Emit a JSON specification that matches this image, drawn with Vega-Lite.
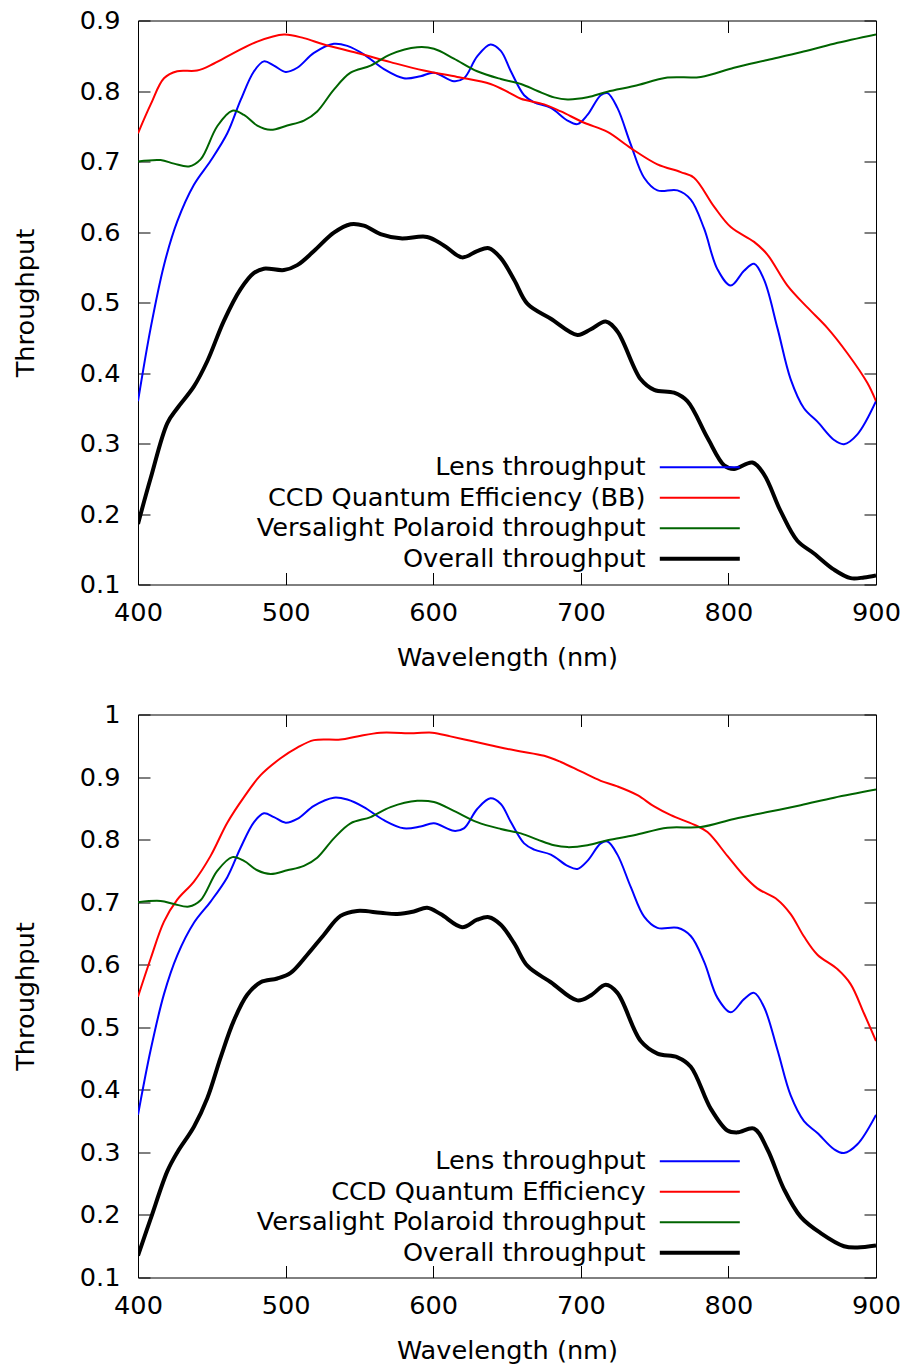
{
  "$schema": "https://vega.github.io/schema/vega-lite/v6.json",
  "background": "white",
  "padding": {"left": 13, "top": 7.5, "right": 5, "bottom": 5},
  "spacing": 29,
  "config": {
    "font": "DejaVu Sans",
    "view": {"stroke": "black", "strokeWidth": 1},
    "axis": {
      "labelFont": "DejaVu Sans", "titleFont": "DejaVu Sans",
      "labelFontSize": 25.6, "titleFontSize": 25.6, "titleFontWeight": "normal",
      "labelColor": "black", "titleColor": "black", "tickColor": "black",
      "tickSize": -12, "tickWidth": 1, "domain": false, "grid": false,
      "labelFlush": false, "labelOverlap": false
    },
    "axisX": {"labelPadding": 28, "titlePadding": 19.5, "labelDx": 4},
    "axisY": {"labelPadding": 30, "titlePadding": 40.5},
    "legend": {
      "title": null, "orient": "none", "legendX": 549, "legendY": 434,
      "symbolType": "M-5,0H5", "symbolSize": 256, "labelFontSize": 25.6,
      "labelFont": "DejaVu Sans", "labelColor": "black", "labelAlign": "right",
      "labelOffset": -67, "labelLimit": 700, "rowPadding": 3.5, "padding": 0
    }
  },
  "resolve": {"scale": {"color": "independent", "strokeWidth": "independent"}, "legend": {"color": "independent", "strokeWidth": "independent"}},
  "datasets": {
    "top": [
      {"series": "Lens throughput", "wl": 400, "value": 0.360},
      {"series": "Lens throughput", "wl": 408.6, "value": 0.464},
      {"series": "Lens throughput", "wl": 417.6, "value": 0.553},
      {"series": "Lens throughput", "wl": 426.6, "value": 0.615},
      {"series": "Lens throughput", "wl": 437.9, "value": 0.667},
      {"series": "Lens throughput", "wl": 449.2, "value": 0.701},
      {"series": "Lens throughput", "wl": 460.5, "value": 0.740},
      {"series": "Lens throughput", "wl": 469.5, "value": 0.787},
      {"series": "Lens throughput", "wl": 478.6, "value": 0.828},
      {"series": "Lens throughput", "wl": 485.3, "value": 0.842},
      {"series": "Lens throughput", "wl": 492.1, "value": 0.836},
      {"series": "Lens throughput", "wl": 500, "value": 0.827},
      {"series": "Lens throughput", "wl": 507.9, "value": 0.833},
      {"series": "Lens throughput", "wl": 519.2, "value": 0.854},
      {"series": "Lens throughput", "wl": 532.7, "value": 0.867},
      {"series": "Lens throughput", "wl": 541.8, "value": 0.864},
      {"series": "Lens throughput", "wl": 553, "value": 0.852},
      {"series": "Lens throughput", "wl": 566.6, "value": 0.831},
      {"series": "Lens throughput", "wl": 580.1, "value": 0.818},
      {"series": "Lens throughput", "wl": 591.4, "value": 0.821},
      {"series": "Lens throughput", "wl": 600.5, "value": 0.826},
      {"series": "Lens throughput", "wl": 614, "value": 0.814},
      {"series": "Lens throughput", "wl": 620.8, "value": 0.818},
      {"series": "Lens throughput", "wl": 629.8, "value": 0.849},
      {"series": "Lens throughput", "wl": 638.8, "value": 0.866},
      {"series": "Lens throughput", "wl": 645.8, "value": 0.857},
      {"series": "Lens throughput", "wl": 652.6, "value": 0.828},
      {"series": "Lens throughput", "wl": 661.6, "value": 0.794},
      {"series": "Lens throughput", "wl": 668.4, "value": 0.784},
      {"series": "Lens throughput", "wl": 679.7, "value": 0.776},
      {"series": "Lens throughput", "wl": 691, "value": 0.758},
      {"series": "Lens throughput", "wl": 697.7, "value": 0.753},
      {"series": "Lens throughput", "wl": 704.5, "value": 0.766},
      {"series": "Lens throughput", "wl": 713.5, "value": 0.794},
      {"series": "Lens throughput", "wl": 718.1, "value": 0.797},
      {"series": "Lens throughput", "wl": 724.8, "value": 0.776},
      {"series": "Lens throughput", "wl": 733.9, "value": 0.724},
      {"series": "Lens throughput", "wl": 742.9, "value": 0.677},
      {"series": "Lens throughput", "wl": 751.9, "value": 0.659},
      {"series": "Lens throughput", "wl": 765.5, "value": 0.659},
      {"series": "Lens throughput", "wl": 774.5, "value": 0.646},
      {"series": "Lens throughput", "wl": 783.5, "value": 0.605},
      {"series": "Lens throughput", "wl": 792.6, "value": 0.547},
      {"series": "Lens throughput", "wl": 801.6, "value": 0.524},
      {"series": "Lens throughput", "wl": 810.6, "value": 0.545},
      {"series": "Lens throughput", "wl": 817.4, "value": 0.555},
      {"series": "Lens throughput", "wl": 824.2, "value": 0.532},
      {"series": "Lens throughput", "wl": 833.2, "value": 0.464},
      {"series": "Lens throughput", "wl": 842.2, "value": 0.391},
      {"series": "Lens throughput", "wl": 851.2, "value": 0.350},
      {"series": "Lens throughput", "wl": 860.3, "value": 0.331},
      {"series": "Lens throughput", "wl": 871.6, "value": 0.305},
      {"series": "Lens throughput", "wl": 878.3, "value": 0.299},
      {"series": "Lens throughput", "wl": 887.4, "value": 0.313},
      {"series": "Lens throughput", "wl": 900, "value": 0.360},

      {"series": "CCD Quantum Efficiency (BB)", "wl": 400, "value": 0.740},
      {"series": "CCD Quantum Efficiency (BB)", "wl": 408.6, "value": 0.781},
      {"series": "CCD Quantum Efficiency (BB)", "wl": 417.6, "value": 0.818},
      {"series": "CCD Quantum Efficiency (BB)", "wl": 426.6, "value": 0.828},
      {"series": "CCD Quantum Efficiency (BB)", "wl": 440, "value": 0.829},
      {"series": "CCD Quantum Efficiency (BB)", "wl": 451.5, "value": 0.839},
      {"series": "CCD Quantum Efficiency (BB)", "wl": 465, "value": 0.854},
      {"series": "CCD Quantum Efficiency (BB)", "wl": 480.8, "value": 0.870},
      {"series": "CCD Quantum Efficiency (BB)", "wl": 498.9, "value": 0.880},
      {"series": "CCD Quantum Efficiency (BB)", "wl": 512.4, "value": 0.875},
      {"series": "CCD Quantum Efficiency (BB)", "wl": 526, "value": 0.866},
      {"series": "CCD Quantum Efficiency (BB)", "wl": 548.5, "value": 0.854},
      {"series": "CCD Quantum Efficiency (BB)", "wl": 571.1, "value": 0.841},
      {"series": "CCD Quantum Efficiency (BB)", "wl": 593.7, "value": 0.829},
      {"series": "CCD Quantum Efficiency (BB)", "wl": 616.3, "value": 0.820},
      {"series": "CCD Quantum Efficiency (BB)", "wl": 638.8, "value": 0.810},
      {"series": "CCD Quantum Efficiency (BB)", "wl": 652, "value": 0.797},
      {"series": "CCD Quantum Efficiency (BB)", "wl": 659.4, "value": 0.789},
      {"series": "CCD Quantum Efficiency (BB)", "wl": 675.2, "value": 0.781},
      {"series": "CCD Quantum Efficiency (BB)", "wl": 686.5, "value": 0.771},
      {"series": "CCD Quantum Efficiency (BB)", "wl": 702.3, "value": 0.755},
      {"series": "CCD Quantum Efficiency (BB)", "wl": 718.1, "value": 0.742},
      {"series": "CCD Quantum Efficiency (BB)", "wl": 733.9, "value": 0.719},
      {"series": "CCD Quantum Efficiency (BB)", "wl": 751.9, "value": 0.696},
      {"series": "CCD Quantum Efficiency (BB)", "wl": 767.7, "value": 0.685},
      {"series": "CCD Quantum Efficiency (BB)", "wl": 776.7, "value": 0.677},
      {"series": "CCD Quantum Efficiency (BB)", "wl": 790.3, "value": 0.636},
      {"series": "CCD Quantum Efficiency (BB)", "wl": 801.6, "value": 0.607},
      {"series": "CCD Quantum Efficiency (BB)", "wl": 817.4, "value": 0.586},
      {"series": "CCD Quantum Efficiency (BB)", "wl": 826.4, "value": 0.568},
      {"series": "CCD Quantum Efficiency (BB)", "wl": 840, "value": 0.524},
      {"series": "CCD Quantum Efficiency (BB)", "wl": 853.5, "value": 0.493},
      {"series": "CCD Quantum Efficiency (BB)", "wl": 867, "value": 0.464},
      {"series": "CCD Quantum Efficiency (BB)", "wl": 880.6, "value": 0.428},
      {"series": "CCD Quantum Efficiency (BB)", "wl": 894.1, "value": 0.386},
      {"series": "CCD Quantum Efficiency (BB)", "wl": 900, "value": 0.360},

      {"series": "Versalight Polaroid throughput", "wl": 400, "value": 0.700},
      {"series": "Versalight Polaroid throughput", "wl": 415.3, "value": 0.702},
      {"series": "Versalight Polaroid throughput", "wl": 424.4, "value": 0.697},
      {"series": "Versalight Polaroid throughput", "wl": 434.5, "value": 0.693},
      {"series": "Versalight Polaroid throughput", "wl": 442.4, "value": 0.703},
      {"series": "Versalight Polaroid throughput", "wl": 453.7, "value": 0.750},
      {"series": "Versalight Polaroid throughput", "wl": 463.9, "value": 0.772},
      {"series": "Versalight Polaroid throughput", "wl": 471.8, "value": 0.766},
      {"series": "Versalight Polaroid throughput", "wl": 480.8, "value": 0.751},
      {"series": "Versalight Polaroid throughput", "wl": 489.8, "value": 0.745},
      {"series": "Versalight Polaroid throughput", "wl": 501.1, "value": 0.751},
      {"series": "Versalight Polaroid throughput", "wl": 512.4, "value": 0.758},
      {"series": "Versalight Polaroid throughput", "wl": 521.4, "value": 0.771},
      {"series": "Versalight Polaroid throughput", "wl": 532.7, "value": 0.802},
      {"series": "Versalight Polaroid throughput", "wl": 544, "value": 0.826},
      {"series": "Versalight Polaroid throughput", "wl": 557.6, "value": 0.836},
      {"series": "Versalight Polaroid throughput", "wl": 571.1, "value": 0.852},
      {"series": "Versalight Polaroid throughput", "wl": 589.2, "value": 0.862},
      {"series": "Versalight Polaroid throughput", "wl": 600.5, "value": 0.860},
      {"series": "Versalight Polaroid throughput", "wl": 614, "value": 0.846},
      {"series": "Versalight Polaroid throughput", "wl": 629.8, "value": 0.828},
      {"series": "Versalight Polaroid throughput", "wl": 645.8, "value": 0.817},
      {"series": "Versalight Polaroid throughput", "wl": 659.4, "value": 0.810},
      {"series": "Versalight Polaroid throughput", "wl": 670.7, "value": 0.800},
      {"series": "Versalight Polaroid throughput", "wl": 681.9, "value": 0.791},
      {"series": "Versalight Polaroid throughput", "wl": 691, "value": 0.788},
      {"series": "Versalight Polaroid throughput", "wl": 704.5, "value": 0.791},
      {"series": "Versalight Polaroid throughput", "wl": 718.1, "value": 0.799},
      {"series": "Versalight Polaroid throughput", "wl": 736.1, "value": 0.807},
      {"series": "Versalight Polaroid throughput", "wl": 758.7, "value": 0.819},
      {"series": "Versalight Polaroid throughput", "wl": 781.3, "value": 0.820},
      {"series": "Versalight Polaroid throughput", "wl": 803.8, "value": 0.833},
      {"series": "Versalight Polaroid throughput", "wl": 826.4, "value": 0.844},
      {"series": "Versalight Polaroid throughput", "wl": 849, "value": 0.855},
      {"series": "Versalight Polaroid throughput", "wl": 871.6, "value": 0.867},
      {"series": "Versalight Polaroid throughput", "wl": 900, "value": 0.880},

      {"series": "Overall throughput", "wl": 400, "value": 0.186},
      {"series": "Overall throughput", "wl": 408.6, "value": 0.251},
      {"series": "Overall throughput", "wl": 419.9, "value": 0.329},
      {"series": "Overall throughput", "wl": 426.6, "value": 0.350},
      {"series": "Overall throughput", "wl": 437.9, "value": 0.381},
      {"series": "Overall throughput", "wl": 447, "value": 0.417},
      {"series": "Overall throughput", "wl": 458.2, "value": 0.474},
      {"series": "Overall throughput", "wl": 469.5, "value": 0.519},
      {"series": "Overall throughput", "wl": 478.6, "value": 0.542},
      {"series": "Overall throughput", "wl": 485.3, "value": 0.548},
      {"series": "Overall throughput", "wl": 498.9, "value": 0.546},
      {"series": "Overall throughput", "wl": 507.9, "value": 0.553},
      {"series": "Overall throughput", "wl": 519.2, "value": 0.573},
      {"series": "Overall throughput", "wl": 532.7, "value": 0.599},
      {"series": "Overall throughput", "wl": 544, "value": 0.611},
      {"series": "Overall throughput", "wl": 553, "value": 0.609},
      {"series": "Overall throughput", "wl": 564.3, "value": 0.597},
      {"series": "Overall throughput", "wl": 577.9, "value": 0.591},
      {"series": "Overall throughput", "wl": 595.9, "value": 0.593},
      {"series": "Overall throughput", "wl": 607.2, "value": 0.581},
      {"series": "Overall throughput", "wl": 619.6, "value": 0.564},
      {"series": "Overall throughput", "wl": 629.8, "value": 0.573},
      {"series": "Overall throughput", "wl": 637.7, "value": 0.577},
      {"series": "Overall throughput", "wl": 645.8, "value": 0.563},
      {"series": "Overall throughput", "wl": 654.9, "value": 0.532},
      {"series": "Overall throughput", "wl": 663.9, "value": 0.498},
      {"series": "Overall throughput", "wl": 679.7, "value": 0.477},
      {"series": "Overall throughput", "wl": 697.7, "value": 0.454},
      {"series": "Overall throughput", "wl": 706.8, "value": 0.462},
      {"series": "Overall throughput", "wl": 716.9, "value": 0.473},
      {"series": "Overall throughput", "wl": 724.8, "value": 0.459},
      {"series": "Overall throughput", "wl": 740.6, "value": 0.391},
      {"series": "Overall throughput", "wl": 749.7, "value": 0.376},
      {"series": "Overall throughput", "wl": 763.2, "value": 0.372},
      {"series": "Overall throughput", "wl": 772.2, "value": 0.360},
      {"series": "Overall throughput", "wl": 785.8, "value": 0.308},
      {"series": "Overall throughput", "wl": 797.1, "value": 0.269},
      {"series": "Overall throughput", "wl": 803.8, "value": 0.264},
      {"series": "Overall throughput", "wl": 816.3, "value": 0.273},
      {"series": "Overall throughput", "wl": 824.2, "value": 0.256},
      {"series": "Overall throughput", "wl": 835.4, "value": 0.204},
      {"series": "Overall throughput", "wl": 846.7, "value": 0.162},
      {"series": "Overall throughput", "wl": 858, "value": 0.144},
      {"series": "Overall throughput", "wl": 871.6, "value": 0.121},
      {"series": "Overall throughput", "wl": 882.8, "value": 0.109},
      {"series": "Overall throughput", "wl": 891.9, "value": 0.110},
      {"series": "Overall throughput", "wl": 900, "value": 0.113}
    ],
    "bottom": [
      {"series": "Lens throughput", "wl": 400, "value": 0.360},
      {"series": "Lens throughput", "wl": 408.6, "value": 0.464},
      {"series": "Lens throughput", "wl": 417.6, "value": 0.553},
      {"series": "Lens throughput", "wl": 426.6, "value": 0.615},
      {"series": "Lens throughput", "wl": 437.9, "value": 0.667},
      {"series": "Lens throughput", "wl": 449.2, "value": 0.701},
      {"series": "Lens throughput", "wl": 460.5, "value": 0.740},
      {"series": "Lens throughput", "wl": 469.5, "value": 0.787},
      {"series": "Lens throughput", "wl": 478.6, "value": 0.828},
      {"series": "Lens throughput", "wl": 485.3, "value": 0.842},
      {"series": "Lens throughput", "wl": 492.1, "value": 0.836},
      {"series": "Lens throughput", "wl": 500, "value": 0.827},
      {"series": "Lens throughput", "wl": 507.9, "value": 0.833},
      {"series": "Lens throughput", "wl": 519.2, "value": 0.854},
      {"series": "Lens throughput", "wl": 532.7, "value": 0.867},
      {"series": "Lens throughput", "wl": 541.8, "value": 0.864},
      {"series": "Lens throughput", "wl": 553, "value": 0.852},
      {"series": "Lens throughput", "wl": 566.6, "value": 0.831},
      {"series": "Lens throughput", "wl": 580.1, "value": 0.818},
      {"series": "Lens throughput", "wl": 591.4, "value": 0.821},
      {"series": "Lens throughput", "wl": 600.5, "value": 0.826},
      {"series": "Lens throughput", "wl": 614, "value": 0.814},
      {"series": "Lens throughput", "wl": 620.8, "value": 0.818},
      {"series": "Lens throughput", "wl": 629.8, "value": 0.849},
      {"series": "Lens throughput", "wl": 638.8, "value": 0.866},
      {"series": "Lens throughput", "wl": 645.8, "value": 0.857},
      {"series": "Lens throughput", "wl": 652.6, "value": 0.828},
      {"series": "Lens throughput", "wl": 661.6, "value": 0.794},
      {"series": "Lens throughput", "wl": 668.4, "value": 0.784},
      {"series": "Lens throughput", "wl": 679.7, "value": 0.776},
      {"series": "Lens throughput", "wl": 691, "value": 0.758},
      {"series": "Lens throughput", "wl": 697.7, "value": 0.753},
      {"series": "Lens throughput", "wl": 704.5, "value": 0.766},
      {"series": "Lens throughput", "wl": 713.5, "value": 0.794},
      {"series": "Lens throughput", "wl": 718.1, "value": 0.797},
      {"series": "Lens throughput", "wl": 724.8, "value": 0.776},
      {"series": "Lens throughput", "wl": 733.9, "value": 0.724},
      {"series": "Lens throughput", "wl": 742.9, "value": 0.677},
      {"series": "Lens throughput", "wl": 751.9, "value": 0.659},
      {"series": "Lens throughput", "wl": 765.5, "value": 0.659},
      {"series": "Lens throughput", "wl": 774.5, "value": 0.646},
      {"series": "Lens throughput", "wl": 783.5, "value": 0.605},
      {"series": "Lens throughput", "wl": 792.6, "value": 0.547},
      {"series": "Lens throughput", "wl": 801.6, "value": 0.524},
      {"series": "Lens throughput", "wl": 810.6, "value": 0.545},
      {"series": "Lens throughput", "wl": 817.4, "value": 0.555},
      {"series": "Lens throughput", "wl": 824.2, "value": 0.532},
      {"series": "Lens throughput", "wl": 833.2, "value": 0.464},
      {"series": "Lens throughput", "wl": 842.2, "value": 0.391},
      {"series": "Lens throughput", "wl": 851.2, "value": 0.350},
      {"series": "Lens throughput", "wl": 860.3, "value": 0.331},
      {"series": "Lens throughput", "wl": 871.6, "value": 0.305},
      {"series": "Lens throughput", "wl": 878.3, "value": 0.299},
      {"series": "Lens throughput", "wl": 887.4, "value": 0.313},
      {"series": "Lens throughput", "wl": 900, "value": 0.360},

      {"series": "CCD Quantum Efficiency", "wl": 400, "value": 0.549},
      {"series": "CCD Quantum Efficiency", "wl": 408.6, "value": 0.610},
      {"series": "CCD Quantum Efficiency", "wl": 417.6, "value": 0.669},
      {"series": "CCD Quantum Efficiency", "wl": 426.6, "value": 0.704},
      {"series": "CCD Quantum Efficiency", "wl": 437.9, "value": 0.733},
      {"series": "CCD Quantum Efficiency", "wl": 449.2, "value": 0.774},
      {"series": "CCD Quantum Efficiency", "wl": 460.5, "value": 0.827},
      {"series": "CCD Quantum Efficiency", "wl": 471.8, "value": 0.868},
      {"series": "CCD Quantum Efficiency", "wl": 483.1, "value": 0.903},
      {"series": "CCD Quantum Efficiency", "wl": 496.6, "value": 0.930},
      {"series": "CCD Quantum Efficiency", "wl": 507.9, "value": 0.947},
      {"series": "CCD Quantum Efficiency", "wl": 519.2, "value": 0.959},
      {"series": "CCD Quantum Efficiency", "wl": 537.2, "value": 0.960},
      {"series": "CCD Quantum Efficiency", "wl": 548.5, "value": 0.965},
      {"series": "CCD Quantum Efficiency", "wl": 564.3, "value": 0.971},
      {"series": "CCD Quantum Efficiency", "wl": 586.9, "value": 0.970},
      {"series": "CCD Quantum Efficiency", "wl": 599.3, "value": 0.971},
      {"series": "CCD Quantum Efficiency", "wl": 611.7, "value": 0.965},
      {"series": "CCD Quantum Efficiency", "wl": 625.3, "value": 0.958},
      {"series": "CCD Quantum Efficiency", "wl": 638.8, "value": 0.951},
      {"series": "CCD Quantum Efficiency", "wl": 648, "value": 0.946},
      {"series": "CCD Quantum Efficiency", "wl": 659.4, "value": 0.941},
      {"series": "CCD Quantum Efficiency", "wl": 675.2, "value": 0.934},
      {"series": "CCD Quantum Efficiency", "wl": 686.5, "value": 0.924},
      {"series": "CCD Quantum Efficiency", "wl": 700, "value": 0.909},
      {"series": "CCD Quantum Efficiency", "wl": 713.5, "value": 0.894},
      {"series": "CCD Quantum Efficiency", "wl": 724.8, "value": 0.885},
      {"series": "CCD Quantum Efficiency", "wl": 738.4, "value": 0.871},
      {"series": "CCD Quantum Efficiency", "wl": 749.7, "value": 0.853},
      {"series": "CCD Quantum Efficiency", "wl": 761, "value": 0.839},
      {"series": "CCD Quantum Efficiency", "wl": 776.7, "value": 0.824},
      {"series": "CCD Quantum Efficiency", "wl": 785.8, "value": 0.812},
      {"series": "CCD Quantum Efficiency", "wl": 799.3, "value": 0.774},
      {"series": "CCD Quantum Efficiency", "wl": 810.6, "value": 0.742},
      {"series": "CCD Quantum Efficiency", "wl": 819.6, "value": 0.722},
      {"series": "CCD Quantum Efficiency", "wl": 833.2, "value": 0.704},
      {"series": "CCD Quantum Efficiency", "wl": 842.2, "value": 0.681},
      {"series": "CCD Quantum Efficiency", "wl": 851.2, "value": 0.645},
      {"series": "CCD Quantum Efficiency", "wl": 860.3, "value": 0.616},
      {"series": "CCD Quantum Efficiency", "wl": 873.8, "value": 0.593},
      {"series": "CCD Quantum Efficiency", "wl": 882.8, "value": 0.569},
      {"series": "CCD Quantum Efficiency", "wl": 891.9, "value": 0.522},
      {"series": "CCD Quantum Efficiency", "wl": 900, "value": 0.478},

      {"series": "Versalight Polaroid throughput", "wl": 400, "value": 0.700},
      {"series": "Versalight Polaroid throughput", "wl": 415.3, "value": 0.702},
      {"series": "Versalight Polaroid throughput", "wl": 424.4, "value": 0.697},
      {"series": "Versalight Polaroid throughput", "wl": 434.5, "value": 0.693},
      {"series": "Versalight Polaroid throughput", "wl": 442.4, "value": 0.703},
      {"series": "Versalight Polaroid throughput", "wl": 453.7, "value": 0.750},
      {"series": "Versalight Polaroid throughput", "wl": 463.9, "value": 0.772},
      {"series": "Versalight Polaroid throughput", "wl": 471.8, "value": 0.766},
      {"series": "Versalight Polaroid throughput", "wl": 480.8, "value": 0.751},
      {"series": "Versalight Polaroid throughput", "wl": 489.8, "value": 0.745},
      {"series": "Versalight Polaroid throughput", "wl": 501.1, "value": 0.751},
      {"series": "Versalight Polaroid throughput", "wl": 512.4, "value": 0.758},
      {"series": "Versalight Polaroid throughput", "wl": 521.4, "value": 0.771},
      {"series": "Versalight Polaroid throughput", "wl": 532.7, "value": 0.802},
      {"series": "Versalight Polaroid throughput", "wl": 544, "value": 0.826},
      {"series": "Versalight Polaroid throughput", "wl": 557.6, "value": 0.836},
      {"series": "Versalight Polaroid throughput", "wl": 571.1, "value": 0.852},
      {"series": "Versalight Polaroid throughput", "wl": 589.2, "value": 0.862},
      {"series": "Versalight Polaroid throughput", "wl": 600.5, "value": 0.860},
      {"series": "Versalight Polaroid throughput", "wl": 614, "value": 0.846},
      {"series": "Versalight Polaroid throughput", "wl": 629.8, "value": 0.828},
      {"series": "Versalight Polaroid throughput", "wl": 645.8, "value": 0.817},
      {"series": "Versalight Polaroid throughput", "wl": 659.4, "value": 0.810},
      {"series": "Versalight Polaroid throughput", "wl": 670.7, "value": 0.800},
      {"series": "Versalight Polaroid throughput", "wl": 681.9, "value": 0.791},
      {"series": "Versalight Polaroid throughput", "wl": 691, "value": 0.788},
      {"series": "Versalight Polaroid throughput", "wl": 704.5, "value": 0.791},
      {"series": "Versalight Polaroid throughput", "wl": 718.1, "value": 0.799},
      {"series": "Versalight Polaroid throughput", "wl": 736.1, "value": 0.807},
      {"series": "Versalight Polaroid throughput", "wl": 758.7, "value": 0.819},
      {"series": "Versalight Polaroid throughput", "wl": 781.3, "value": 0.820},
      {"series": "Versalight Polaroid throughput", "wl": 803.8, "value": 0.833},
      {"series": "Versalight Polaroid throughput", "wl": 826.4, "value": 0.844},
      {"series": "Versalight Polaroid throughput", "wl": 849, "value": 0.855},
      {"series": "Versalight Polaroid throughput", "wl": 871.6, "value": 0.867},
      {"series": "Versalight Polaroid throughput", "wl": 900, "value": 0.880},

      {"series": "Overall throughput", "wl": 400, "value": 0.135},
      {"series": "Overall throughput", "wl": 408.6, "value": 0.194},
      {"series": "Overall throughput", "wl": 419.9, "value": 0.270},
      {"series": "Overall throughput", "wl": 426.6, "value": 0.300},
      {"series": "Overall throughput", "wl": 437.9, "value": 0.341},
      {"series": "Overall throughput", "wl": 447, "value": 0.387},
      {"series": "Overall throughput", "wl": 456, "value": 0.452},
      {"series": "Overall throughput", "wl": 465, "value": 0.511},
      {"series": "Overall throughput", "wl": 474, "value": 0.552},
      {"series": "Overall throughput", "wl": 483.1, "value": 0.572},
      {"series": "Overall throughput", "wl": 494.4, "value": 0.578},
      {"series": "Overall throughput", "wl": 503.4, "value": 0.587},
      {"series": "Overall throughput", "wl": 514.7, "value": 0.616},
      {"series": "Overall throughput", "wl": 526, "value": 0.648},
      {"series": "Overall throughput", "wl": 537.2, "value": 0.678},
      {"series": "Overall throughput", "wl": 548.5, "value": 0.686},
      {"series": "Overall throughput", "wl": 564.3, "value": 0.683},
      {"series": "Overall throughput", "wl": 575.6, "value": 0.681},
      {"series": "Overall throughput", "wl": 586.9, "value": 0.685},
      {"series": "Overall throughput", "wl": 595.9, "value": 0.691},
      {"series": "Overall throughput", "wl": 605, "value": 0.681},
      {"series": "Overall throughput", "wl": 619.6, "value": 0.660},
      {"series": "Overall throughput", "wl": 629.8, "value": 0.672},
      {"series": "Overall throughput", "wl": 637.7, "value": 0.676},
      {"series": "Overall throughput", "wl": 645.8, "value": 0.664},
      {"series": "Overall throughput", "wl": 654.9, "value": 0.634},
      {"series": "Overall throughput", "wl": 663.9, "value": 0.598},
      {"series": "Overall throughput", "wl": 679.7, "value": 0.572},
      {"series": "Overall throughput", "wl": 697.7, "value": 0.543},
      {"series": "Overall throughput", "wl": 706.8, "value": 0.551},
      {"series": "Overall throughput", "wl": 716.9, "value": 0.568},
      {"series": "Overall throughput", "wl": 724.8, "value": 0.555},
      {"series": "Overall throughput", "wl": 740.6, "value": 0.478},
      {"series": "Overall throughput", "wl": 751.9, "value": 0.458},
      {"series": "Overall throughput", "wl": 765.5, "value": 0.452},
      {"series": "Overall throughput", "wl": 774.5, "value": 0.437},
      {"series": "Overall throughput", "wl": 788, "value": 0.370},
      {"series": "Overall throughput", "wl": 799.3, "value": 0.335},
      {"series": "Overall throughput", "wl": 806.1, "value": 0.332},
      {"series": "Overall throughput", "wl": 817.4, "value": 0.338},
      {"series": "Overall throughput", "wl": 826.4, "value": 0.305},
      {"series": "Overall throughput", "wl": 837.7, "value": 0.241},
      {"series": "Overall throughput", "wl": 849, "value": 0.197},
      {"series": "Overall throughput", "wl": 862.5, "value": 0.171},
      {"series": "Overall throughput", "wl": 878.3, "value": 0.150},
      {"series": "Overall throughput", "wl": 887.4, "value": 0.148},
      {"series": "Overall throughput", "wl": 900, "value": 0.151}
    ]
  },
  "vconcat": [
    {
      "width": 738, "height": 564,
      "data": {"name": "top"},
      "resolve": {"axis": {"x": "independent", "y": "independent"}},
      "layer": [
        {
          "mark": {"type": "line", "interpolate": "catmull-rom", "clip": true},
          "encoding": {
            "x": {"field": "wl", "type": "quantitative", "scale": {"domain": [400, 900], "nice": false, "zero": false},
                  "axis": {"values": [400, 500, 600, 700, 800, 900], "format": "d", "title": "Wavelength (nm)"}},
            "y": {"field": "value", "type": "quantitative", "scale": {"domain": [0.1, 0.9], "nice": false, "zero": false},
                  "axis": {"values": [0.1, 0.2, 0.3, 0.4, 0.5, 0.6, 0.7, 0.8, 0.9], "format": "~g", "title": "Throughput"}},
            "color": {"field": "series", "type": "nominal",
                      "scale": {"domain": ["Lens throughput", "CCD Quantum Efficiency (BB)", "Versalight Polaroid throughput", "Overall throughput"], "range": ["#0000ff", "#ff0000", "#006400", "#000000"]},
                      "legend": {"title": null}},
            "strokeWidth": {"field": "series", "type": "nominal",
                      "scale": {"type": "ordinal", "domain": ["Lens throughput", "CCD Quantum Efficiency (BB)", "Versalight Polaroid throughput", "Overall throughput"], "range": [2, 2, 2, 4]},
                      "legend": {"title": null}}
          }
        },
        {
          "mark": {"type": "point", "opacity": 0},
          "encoding": {
            "x": {"field": "wl", "type": "quantitative", "scale": {"domain": [400, 900], "nice": false, "zero": false},
                  "axis": {"orient": "top", "values": [400, 500, 600, 700, 800, 900], "labels": false, "title": null}},
            "y": {"field": "value", "type": "quantitative", "scale": {"domain": [0.1, 0.9], "nice": false, "zero": false},
                  "axis": {"orient": "right", "values": [0.1, 0.2, 0.3, 0.4, 0.5, 0.6, 0.7, 0.8, 0.9], "labels": false, "title": null}}
          }
        }
      ]
    },
    {
      "width": 738, "height": 563,
      "data": {"name": "bottom"},
      "resolve": {"axis": {"x": "independent", "y": "independent"}},
      "layer": [
        {
          "mark": {"type": "line", "interpolate": "catmull-rom", "clip": true},
          "encoding": {
            "x": {"field": "wl", "type": "quantitative", "scale": {"domain": [400, 900], "nice": false, "zero": false},
                  "axis": {"values": [400, 500, 600, 700, 800, 900], "format": "d", "title": "Wavelength (nm)"}},
            "y": {"field": "value", "type": "quantitative", "scale": {"domain": [0.1, 1.0], "nice": false, "zero": false},
                  "axis": {"values": [0.1, 0.2, 0.3, 0.4, 0.5, 0.6, 0.7, 0.8, 0.9, 1], "format": "~g", "title": "Throughput"}},
            "color": {"field": "series", "type": "nominal",
                      "scale": {"domain": ["Lens throughput", "CCD Quantum Efficiency", "Versalight Polaroid throughput", "Overall throughput"], "range": ["#0000ff", "#ff0000", "#006400", "#000000"]},
                      "legend": {"title": null}},
            "strokeWidth": {"field": "series", "type": "nominal",
                      "scale": {"type": "ordinal", "domain": ["Lens throughput", "CCD Quantum Efficiency", "Versalight Polaroid throughput", "Overall throughput"], "range": [2, 2, 2, 4]},
                      "legend": {"title": null}}
          }
        },
        {
          "mark": {"type": "point", "opacity": 0},
          "encoding": {
            "x": {"field": "wl", "type": "quantitative", "scale": {"domain": [400, 900], "nice": false, "zero": false},
                  "axis": {"orient": "top", "values": [400, 500, 600, 700, 800, 900], "labels": false, "title": null}},
            "y": {"field": "value", "type": "quantitative", "scale": {"domain": [0.1, 1.0], "nice": false, "zero": false},
                  "axis": {"orient": "right", "values": [0.1, 0.2, 0.3, 0.4, 0.5, 0.6, 0.7, 0.8, 0.9, 1], "labels": false, "title": null}}
          }
        }
      ]
    }
  ]
}
